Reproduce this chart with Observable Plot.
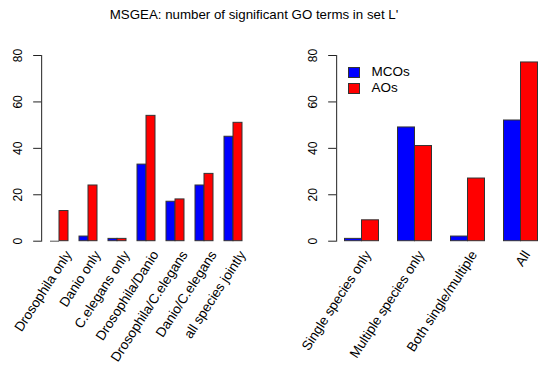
<!DOCTYPE html>
<html>
<head>
<meta charset="utf-8">
<script src="https://cdn.jsdelivr.net/npm/d3@7"></script>
<script src="https://cdn.jsdelivr.net/npm/@observablehq/plot@0.6"></script>
<style>
  html, body { margin: 0; padding: 0; background: #fff; }
  #root { position: relative; width: 550px; height: 373px; overflow: hidden; font-family: "Liberation Sans", Arial, sans-serif; }
  #root svg { position: absolute; top: 0; }
  .title { position: absolute; left: 0; width: 508px; top: 7px; text-align: center; font-size: 13.3px; color: #000; }
  .leg { position: absolute; font-size: 13.5px; color: #000; }
  .sw { position: absolute; width: 10px; height: 8.5px; border: 1px solid #333; }
</style>
</head>
<body>
<div id="root"></div>
<script>
// ---- data ----
const series = ["MCOs", "AOs"];
const colors = ["#0000FF", "#FF0000"];
const speciesCats = ["Drosophila only", "Danio only", "C.elegans only", "Drosophila/Danio", "Drosophila/C.elegans", "Danio/C.elegans", "all species jointly"];
const speciesMCOs = [0, 2, 1, 33, 17, 24, 45];
const speciesAOs  = [13, 24, 1, 54, 18, 29, 51];
const groupCats = ["Single species only", "Multiple species only", "Both single/multiple", "All"];
const groupMCOs = [1, 49, 2, 52];
const groupAOs  = [9, 41, 27, 77];
const yTicks = [0, 20, 40, 60, 80];
const titleText = "MSGEA: number of significant GO terms in set L'";

function table(cats, a, b) {
  const rows = [];
  cats.forEach((c, i) => {
    rows.push({cat: c, series: series[0], value: a[i]});
    rows.push({cat: c, series: series[1], value: b[i]});
  });
  return rows;
}

function panel(cats, a, b, opts) {
  const data = table(cats, a, b);
  const axisDx = -7.84;
  return Plot.plot({
    width: 275,
    height: 373,
    marginLeft: opts.marginLeft,
    marginRight: opts.marginRight,
    marginTop: 55,
    marginBottom: 132.3,
    style: {fontFamily: '"Liberation Sans", Arial, sans-serif', fontSize: "12px", color: "#000", background: "transparent", overflow: "visible"},
    fx: {domain: cats, paddingInner: 1/3, paddingOuter: opts.paddingOuter, axis: null, label: null},
    x: {domain: series, padding: 0, axis: null},
    y: {domain: [0, 80], axis: null},
    color: {domain: series, range: colors},
    marks: [
      Plot.barY(data, {fx: "cat", x: "series", y: "value", fill: "series", stroke: "#333", strokeWidth: 1}),
      Plot.tickY(data.filter(d => d.value === 0), {fx: "cat", x: "series", y: "value", stroke: "#555", strokeWidth: 1}),
      Plot.axisY({ticks: yTicks, tickSize: 8, tickRotate: -90, tickPadding: 12, dx: axisDx, label: null, stroke: "#222", fontSize: 12}),
      Plot.frame({anchor: "left", facetAnchor: "left", dx: axisDx, stroke: "#222"}),
      Plot.text(cats, {fx: d => d, text: d => d, frameAnchor: "bottom", dx: opts.labelDx, dy: 11, rotate: -57, textAnchor: "end", lineAnchor: "middle", fontSize: 13.5})
    ]
  });
}

const root = document.getElementById("root");
const t = document.createElement("div");
t.className = "title"; t.textContent = titleText;
root.appendChild(t);

const p1 = panel(speciesCats, speciesMCOs, speciesAOs, {marginLeft: 40, marginRight: 23.3, paddingOuter: 0.8/3, labelDx: 9.5});
p1.style.left = "0px";
root.appendChild(p1);
const p2 = panel(groupCats, groupMCOs, groupAOs, {marginLeft: 60.5, marginRight: 2.8, paddingOuter: 0.44/3, labelDx: 6});
p2.style.left = "275px";
root.appendChild(p2);

// legend
const legY = [67.3, 83.3];
series.forEach((s, i) => {
  const sw = document.createElement("div");
  sw.className = "sw";
  sw.style.left = "348px"; sw.style.top = legY[i] + "px"; sw.style.background = colors[i];
  root.appendChild(sw);
  const lb = document.createElement("div");
  lb.className = "leg"; lb.textContent = s;
  lb.style.left = "371.5px"; lb.style.top = (legY[i] - 3.5) + "px";
  root.appendChild(lb);
});
</script>
</body>
</html>
